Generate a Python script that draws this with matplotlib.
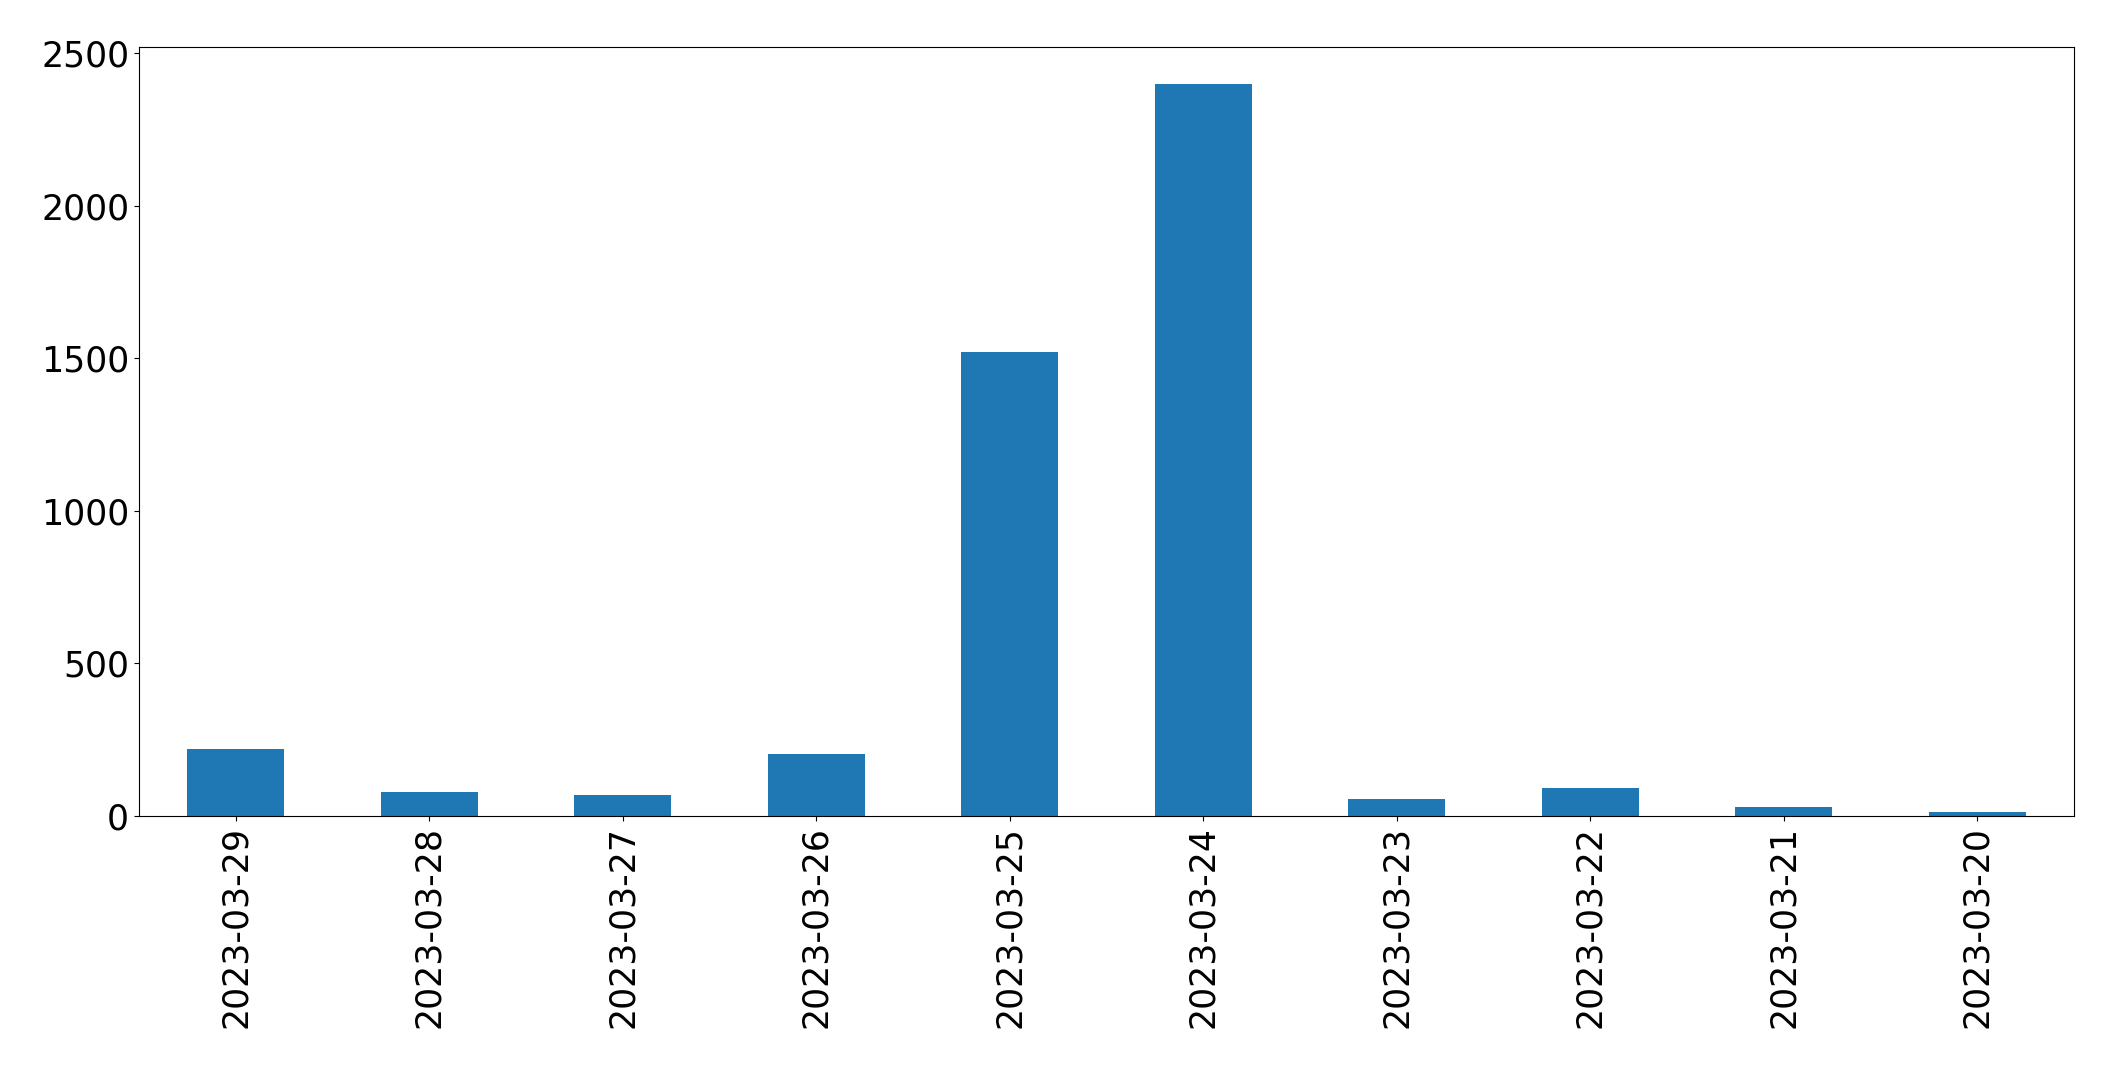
#%%
# daily counts bar chart
import pandas as pd
import matplotlib
matplotlib.use("Agg")
import matplotlib.pyplot as plt

#------------------- DATA --------------------------------------------------
dates = ['2023-03-29', '2023-03-28', '2023-03-27', '2023-03-26', '2023-03-25',
         '2023-03-24', '2023-03-23', '2023-03-22', '2023-03-21', '2023-03-20']
counts = [220, 79, 70, 203, 1522, 2400, 57, 92, 30, 13]

s = pd.Series(counts, index=dates)

#------------------- PLOT --------------------------------------------------
plt.rcParams['font.size'] = 25
fig = plt.figure(figsize=(21.15, 10.68), dpi=100)
ax = fig.add_axes([0.0657, 0.236, 0.9149, 0.72])
s.plot.bar(ax=ax, color='#1f77b4')
ax.tick_params(axis='both', labelsize=25)

fig.savefig('out.png', dpi=100)
#%%
